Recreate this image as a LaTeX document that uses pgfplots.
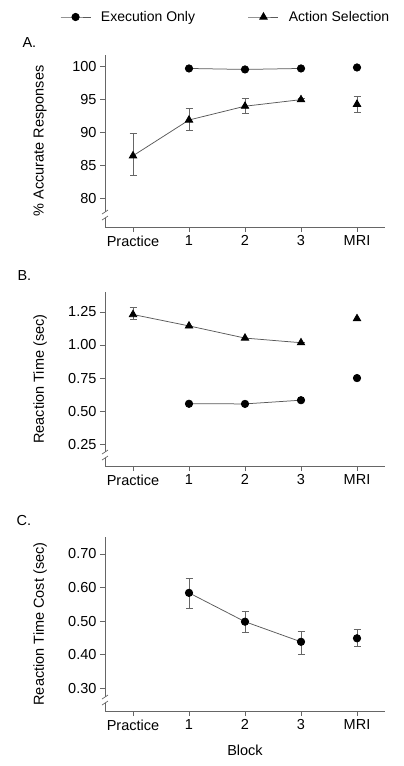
\documentclass[border=0pt]{standalone}
\usepackage{fontspec}
\setmainfont{Liberation Sans}
\usepackage{pgfplots}
\pgfplotsset{compat=1.18}

\pgfplotsset{
  panel/.style={
    scale only axis, width=280pt,
    xmin=-0.5, xmax=4.5,
    axis x line=bottom, axis y line=left,
    axis line style={-, black!60, line width=0.7pt},
    tick style={black!60, line width=0.7pt},
    tick align=outside, major tick length=5pt,
    xtick={0,1,2,3,4},
    xticklabels={Practice,1,2,3,MRI},
    tick label style={font=\fontsize{14.5}{16}\selectfont},
    label style={font=\fontsize{14.5}{16}\selectfont},
    /pgf/number format/assume math mode=true,
    ylabel style={at={(axis description cs:-0.232,0.5)}, anchor=center},
    clip=false,
  },
  conn/.style={black!65, line width=0.75pt, mark options={black, fill=black, solid}},
  circ/.style={conn, mark=*, mark size=3.7pt},
  tri/.style={conn, mark=triangle*, mark size=4.3pt},
  ebar/.style={error bars/.cd, y dir=both, y explicit,
    error bar style={black!60, line width=0.7pt},
    error mark options={rotate=90, mark size=3.5pt, black!60, line width=0.7pt},
    /pgfplots/.cd},
}

\newcommand{\brk}[1]{%
  \fill[white] (101pt,#1-3pt) rectangle (109pt,#1+3pt);
  \draw[black!60, line width=0.7pt] (102pt,#1-5pt) -- (108pt,#1-1pt);
  \draw[black!60, line width=0.7pt] (102pt,#1+1pt) -- (108pt,#1+5pt);
}

\begin{document}
\begin{tikzpicture}[x=1pt,y=1pt]
\path (0,0) rectangle (404,-766);

% ---- A ----
\begin{axis}[panel, at={(105pt,-227pt)}, anchor=south west, height=172pt,
  ymin=75.6, ymax=101.8, ytick={80,85,90,95,100},
  ylabel={\% Accurate Responses},
  legend columns=2,
  legend style={at={(axis description cs:-0.1607,1.2209)}, anchor=west,
    draw=none, fill=none, inner sep=0pt,
    font=\fontsize{14}{15}\selectfont,
    nodes={inner sep=0pt},
    /tikz/column 1/.style={column sep=10pt},
    /tikz/column 2/.style={column sep=53pt},
    /tikz/column 3/.style={column sep=10pt}},
  legend image code/.code={\draw[mark repeat=2, mark phase=2, #1]
    plot coordinates {(0pt,0pt) (15pt,0pt) (30pt,0pt)};},
]
\addplot[circ] coordinates {(1,99.75) (2,99.6) (3,99.75)};
\addlegendentry{Execution Only}
\addplot[tri, ebar] coordinates {
  (0,86.45) += (0,3.45) -= (0,3.05)
  (1,91.9) += (0,1.8) -= (0,1.55)
  (2,94.0) += (0,1.2) -= (0,1.1)
  (3,95.0) += (0,0.2) -= (0,0.2)};
\addlegendentry{Action Selection}
\addplot[circ, only marks, forget plot] coordinates {(4,99.9)};
\addplot[tri, only marks, ebar, forget plot] coordinates {(4,94.3) += (0,1.2) -= (0,1.2)};
\end{axis}
\brk{-215}
\node[anchor=west, font=\fontsize{14.5}{16}\selectfont] at (19,-43) {A.};

% ---- B ----
\begin{axis}[panel, at={(105pt,-466pt)}, anchor=south west, height=174pt,
  ymin=0.086, ymax=1.40, ytick={0.25,0.5,0.75,1.0,1.25},
  yticklabel style={/pgf/number format/.cd, fixed, fixed zerofill, precision=2},
  ylabel={Reaction Time (sec)},
]
\addplot[tri, ebar] coordinates {
  (0,1.23) += (0,0.055) -= (0,0.04)
  (1,1.144) += (0,0) -= (0,0)
  (2,1.052) += (0,0) -= (0,0)
  (3,1.017) += (0,0) -= (0,0)};
\addplot[circ] coordinates {(1,0.556) (2,0.555) (3,0.583)};
\addplot[tri, only marks] coordinates {(4,1.199)};
\addplot[circ, only marks] coordinates {(4,0.75)};
\end{axis}
\brk{-455}
\node[anchor=west, font=\fontsize{14.5}{16}\selectfont] at (14,-276) {B.};

% ---- C ----
\begin{axis}[panel, at={(105pt,-711pt)}, anchor=south west, height=174pt,
  ymin=0.2316, ymax=0.7506, ytick={0.3,0.4,0.5,0.6,0.7},
  yticklabel style={/pgf/number format/.cd, fixed, fixed zerofill, precision=2},
  ylabel={Reaction Time Cost (sec)},
  xlabel={Block},
  xlabel style={yshift=-8pt},
]
\addplot[circ, ebar] coordinates {
  (1,0.584) += (0,0.042) -= (0,0.045)
  (2,0.498) += (0,0.031) -= (0,0.031)
  (3,0.438) += (0,0.0325) -= (0,0.036)};
\addplot[circ, only marks, ebar] coordinates {(4,0.4485) += (0,0.028) -= (0,0.0245)};
\end{axis}
\brk{-700}
\node[anchor=west, font=\fontsize{14.5}{16}\selectfont] at (13,-521) {C.};
\end{tikzpicture}
\end{document}
